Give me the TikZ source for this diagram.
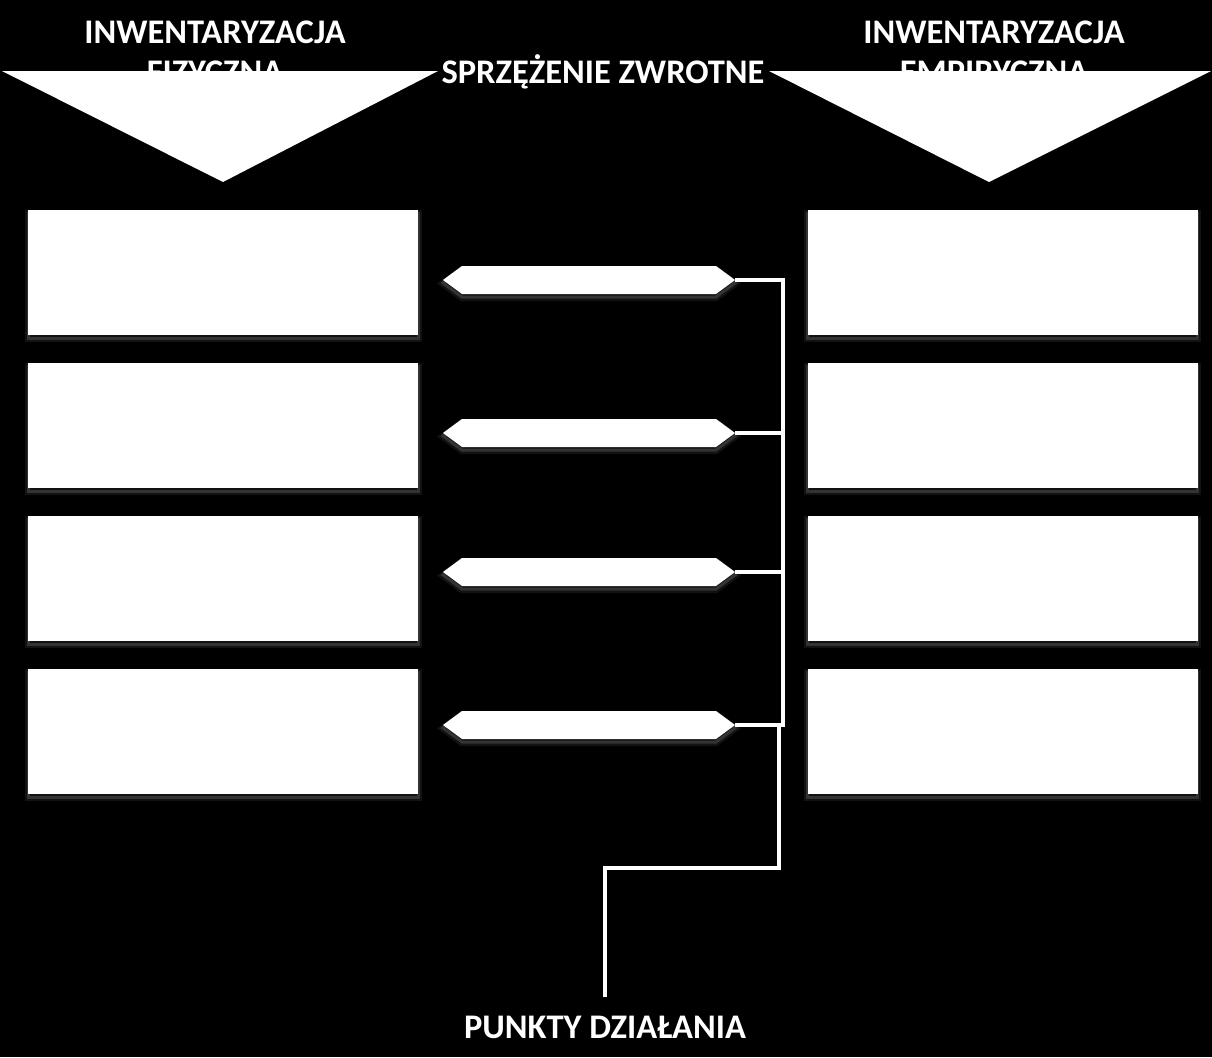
\documentclass[tikz,border=0pt]{standalone}
\usepackage{fontspec}
\setmainfont{Carlito}
\begin{document}
\begin{tikzpicture}[x=1pt,y=-1pt,
  glow/.style={preaction={draw=white,opacity=0.07,line width=7pt,transform canvas={yshift=-3.5pt}},
               preaction={draw=white,opacity=0.14,line width=3pt,transform canvas={yshift=-3pt}}},
  card/.style={rectangle,fill=white,draw=none,inner sep=0pt,minimum width=390pt,minimum height=125pt,glow},
  title/.style={text=white,font=\fontsize{34.5}{40}\selectfont\bfseries,inner sep=0pt,anchor=base},
  tri/.style={fill=white,draw=none},
  dbl/.style={fill=white,draw=none,glow},
  wire/.style={draw=white,line width=4pt,line join=miter}]
\fill[black] (0,0) rectangle (1212,1057);
\useasboundingbox (0,0) rectangle (1212,1057);
% titles (second line is partly hidden by the triangles)
\node[title] (tL1) at (215,44) {INWENTARYZACJA};
\node[title] (tL2) at (215,84) {FIZYCZNA};
\node[title] (tR1) at (994,44) {INWENTARYZACJA};
\node[title] (tR2) at (994,84) {EMPIRYCZNA};
\node[title] (fb) at (603,83) {SPRZĘŻENIE ZWROTNE};
% triangles
\fill[tri] (2,71) -- (438,71) -- (223,182) -- cycle;
\fill[tri] (769,71) -- (1211,71) -- (989,182) -- cycle;
% boxes
\foreach \i/\y in {1/272.5,2/425.5,3/578.5,4/731.5}{
  \node[card] (L\i) at (223,\y) {};
  \node[card] (R\i) at (1002.5,\y) {};
}
% double arrows
\foreach \i/\y in {1/280,2/433,3/572,4/725}{
  \coordinate (aL\i) at (443,\y);
  \coordinate (aR\i) at (735,\y);
  \path[dbl] (aL\i) -- ++(19,-14) -- (716,\y-14) -- (aR\i) -- (716,\y+14) -- (462,\y+14) -- cycle;
}
% connectors
\coordinate (bTop) at (783,280);
\coordinate (bBot) at (783,725);
\coordinate (sTop) at (779,725);
\coordinate (sCorner) at (779,868);
\coordinate (dCorner) at (605,868);
\coordinate (dEnd) at (605,997);
\draw[wire] (aR1) -- (bTop) -- (bBot) -- (aR4);
\draw[wire] (aR2) -- (aR2 -| bTop);
\draw[wire] (aR3) -- (aR3 -| bTop);
\draw[wire] (sTop) -- (sCorner) -- (dCorner) -- (dEnd);
\node[title] (pd) at (605,1038) {PUNKTY DZIAŁANIA};
\end{tikzpicture}
\end{document}
